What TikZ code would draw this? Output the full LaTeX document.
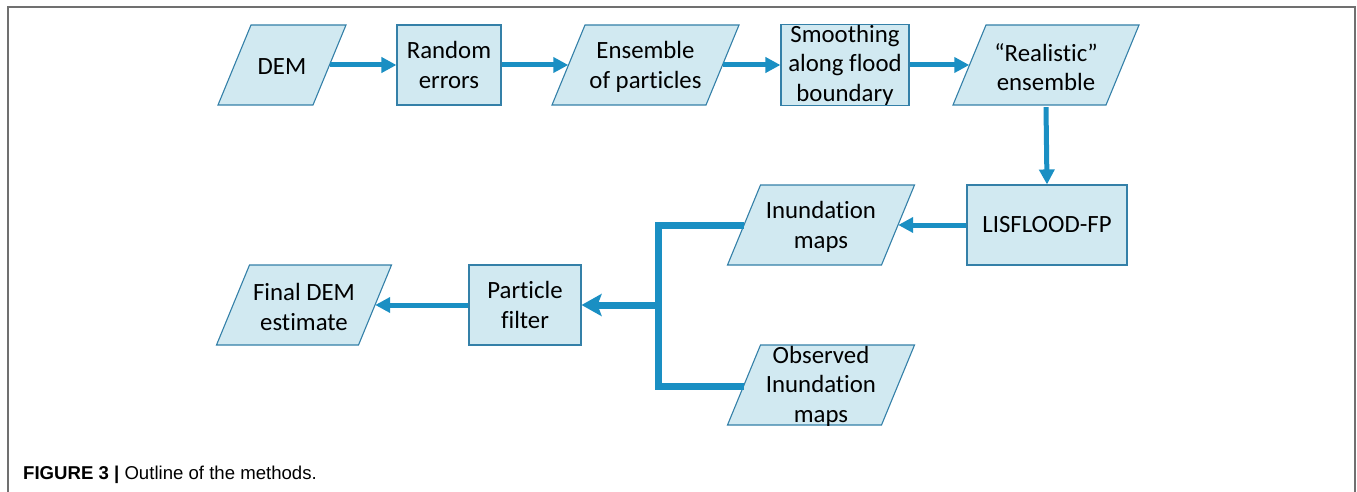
\documentclass[tikz,border=0pt]{standalone}
\usepackage{fontspec}
\setmainfont{Carlito}[Ligatures=NoCommon]
\newfontfamily\capfont{Liberation Sans}
\usetikzlibrary{arrows.meta,backgrounds}

\definecolor{boxfill}{RGB}{209,233,241}
\definecolor{boxline}{RGB}{52,128,168}
\definecolor{flow}{RGB}{26,143,195}
\definecolor{framegray}{RGB}{112,112,112}

\tikzset{
  x=1pt, y=-1pt,
  lbl/.style={inner sep=0pt, minimum height=80pt, align=center,
    font=\fontsize{24.8}{29.5}\selectfont},
  procbox/.style={lbl, draw=boxline, fill=boxfill, line width=1.1pt},
  databox/.style={lbl},
  slab/.style={draw=boxline, fill=boxfill, line width=1.1pt},
  link/.style={draw=flow, line width=5pt,
    -{Triangle[length=15pt,width=15pt]}},
  biglink/.style={draw=flow, line width=7pt,
    -{Stealth[length=20pt,width=22pt,inset=4pt]}},
  trunk/.style={draw=flow, line width=7pt, line join=miter},
}

\begin{document}
\begin{tikzpicture}
  \useasboundingbox (0,0) rectangle (1357,492);
  % open frame (no bottom edge)
  \draw[framegray, line width=2pt] (7.5,492) -- (7.5,7) -- (1355,7) -- (1355,492);

  % top row
  \node[databox, minimum width=95pt]  (dem)    at (282,67)   {DEM};
  \node[procbox, minimum width=104pt] (rand)   at (449,65)   {Random\\errors};
  \node[databox, minimum width=154pt] (ens)    at (645.5,67) {Ensemble\\of particles};
  \node[procbox, minimum width=128pt] (smooth) at (845,65)   {Smoothing\\along flood\\boundary};
  \node[databox, minimum width=153pt] (real)   at (1046,67)  {“Realistic”\\ensemble};

  % model and outputs
  \node[procbox, minimum width=160pt] (lis)    at (1047,225) {LISFLOOD-FP};
  \node[databox, minimum width=154pt] (inun)   at (821,227)  {Inundation\\maps};
  \node[databox, minimum width=154pt] (obs)    at (821,386)  {Observed\\Inundation\\maps};

  % filtering
  \node[procbox, minimum width=112pt] (pf)     at (525,305)  {Particle\\filter};
  \node[databox, minimum width=142pt] (final)  at (304,307)  {Final DEM\\estimate};

  % parallelogram outlines for the data items
  \begin{scope}[on background layer]
    \foreach \n/\w/\yc in {dem/95/65, ens/154/65, real/153/65, inun/154/225, obs/154/385, final/142/305}{
      \path[slab] ([shift={(-\w/2-16.5,40)}]\n.center |- 0,\yc)
        -- ([shift={(-\w/2+16.5,-40)}]\n.center |- 0,\yc)
        -- ([shift={(\w/2+16.5,-40)}]\n.center |- 0,\yc)
        -- ([shift={(\w/2-16.5,40)}]\n.center |- 0,\yc) -- cycle;
    }
  \end{scope}

  % flow
  \draw[link] (dem.east |- rand.west) -- (rand.west);
  \draw[link] (rand.east) -- (ens.west |- rand.east);
  \draw[link] (ens.east |- smooth.west) -- (smooth.west);
  \draw[link] (smooth.east) -- (real.west |- smooth.east);
  \draw[link] (real.south) -- (lis.north);
  \draw[link] (lis.west) -- (inun.east |- lis.west);

  \coordinate (join) at (658,305);
  \draw[trunk] (inun.west |- lis.west) -| (join) |- (obs.west |- 0,386);
  \draw[biglink] (join) -- (pf.east);
  \draw[link] (pf.west) -- (final.east |- pf.west);

  % caption
  \node[anchor=base west, inner sep=0pt, font=\capfont\fontsize{18.6}{20}\selectfont]
    (cap) at (23,479) {\textbf{FIGURE 3 |} Outline of the methods.};
\end{tikzpicture}
\end{document}
